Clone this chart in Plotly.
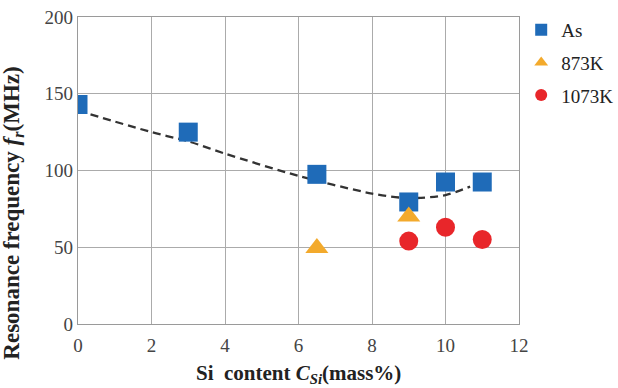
import plotly.graph_objects as go

# Si content (mass%) and resonance frequency (MHz)
si_as = [0, 3, 6.5, 9, 10, 11]
fr_as = [143, 125, 97.5, 79.5, 92.5, 92.5]

si_873 = [6.5, 9]
fr_873 = [49.5, 70]

si_1073 = [9, 10, 11]
fr_1073 = [54, 63, 55]

# trend line of the as-received data
trend_si = [0, 2, 3, 4, 6, 8, 9, 10, 10.67]
trend_fr = [139, 125, 119, 111, 96.5, 85, 82, 84, 89.5]

x_ticks = [0, 2, 4, 6, 8, 10, 12]
y_ticks = [0, 50, 100, 150, 200]

serif = "Liberation Serif, Times New Roman, serif"

fig = go.Figure()
fig.add_trace(go.Scatter(x=trend_si, y=trend_fr, mode="lines", showlegend=False,
                         line=dict(color="#333333", width=2.3, dash="8px,5px",
                                   shape="spline", smoothing=0.8),
                         hoverinfo="skip"))
fig.add_trace(go.Scatter(x=si_as, y=fr_as, mode="markers", name="As",
                         legendgroup="as",
                         marker=dict(symbol="square", size=19, color="#1f6bb8")))
fig.add_trace(go.Scatter(x=si_873, y=fr_873, mode="markers", name="873K",
                         legendgroup="t873",
                         marker=dict(symbol="triangle-up", size=20, color="#f3aa2c")))
fig.add_trace(go.Scatter(x=si_1073, y=fr_1073, mode="markers", name="1073K",
                         legendgroup="t1073",
                         marker=dict(symbol="circle", size=19, color="#e8262a")))

axis_common = dict(showgrid=True, gridcolor="#ababab", gridwidth=1.3,
                   showline=True, linecolor="#9a9a9a", linewidth=1.3, mirror=True,
                   zeroline=False, ticks="", ticklen=0,
                   tickfont=dict(family=serif, size=19, color="#444444"))

fig.update_xaxes(range=[0, 12], tickvals=x_ticks, ticklabelstandoff=4, **axis_common)
fig.update_yaxes(range=[0, 200], tickvals=y_ticks, **axis_common)

fig.add_annotation(text="<b>Si  content <i>C<sub>Si</sub></i>(mass%)</b>",
                   xref="paper", yref="paper", x=0.501, y=-0.163,
                   xanchor="center", yanchor="middle", showarrow=False,
                   font=dict(family=serif, size=21, color="#222222"))
fig.add_annotation(text="<b>Resonance frequency <i>f<sub>r</sub></i>(MHz)</b>",
                   xref="paper", yref="paper", x=-0.147, y=0.36,
                   xanchor="center", yanchor="middle", showarrow=False,
                   textangle=-90, font=dict(family=serif, size=23, color="#222222"))

fig.update_layout(
    width=618, height=388,
    margin=dict(l=78, r=99, t=17, b=64, autoexpand=False),
    paper_bgcolor="white", plot_bgcolor="white",
    legend=dict(x=1.005, y=1.02, xanchor="left", yanchor="top",
                font=dict(family=serif, size=19, color="#222222"),
                itemwidth=30, itemsizing="constant", tracegroupgap=5,
                bgcolor="rgba(0,0,0,0)"),
)

fig.write_html("out.html")
